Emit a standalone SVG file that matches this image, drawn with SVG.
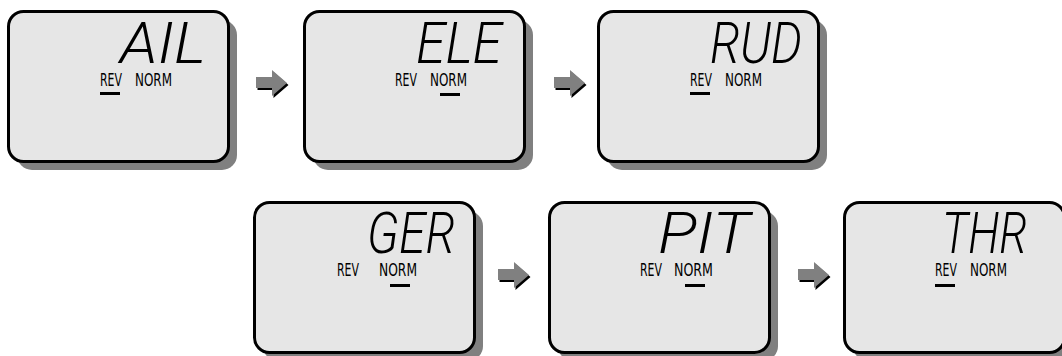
<svg xmlns="http://www.w3.org/2000/svg" width="1062" height="356" viewBox="0 0 1062 356">
<defs>
<style>
.shadow{fill:#808080}
.panel{fill:#e6e6e6;stroke:#000;stroke-width:3}
.big{font-family:Roboto,"DejaVu Sans",sans-serif;font-weight:300;font-style:italic;font-size:58px;fill:#000}
.lbl{font-family:"DejaVu Sans Condensed","DejaVu Sans",sans-serif;font-size:18.5px;fill:#000}
.bar{fill:#000}
.arr{fill:#808080}
.arrs{fill:#000}
</style>
<g id="panel">
<rect class="shadow" x="10" y="10" width="220" height="150" rx="15"/>
<rect class="panel" x="1.5" y="1.5" width="220" height="150" rx="15"/>
</g>
<g id="arrow">
<path class="arrs" d="M1.5,9 H17.5 V2 L32.5,15 L17.5,28 V20 H1.5 Z"/>
<path class="arr" d="M0,7 H16 V0 L31,13 L16,26 V18 H0 Z"/>
</g>
</defs>

<g id="node-ail" transform="translate(7,10)">
<use href="#panel"/>
<text class="big" x="113" y="53" textLength="86" lengthAdjust="spacingAndGlyphs">AIL</text>
<text class="lbl" x="93" y="76" textLength="22" lengthAdjust="spacingAndGlyphs">REV</text>
<text class="lbl" x="128" y="76" textLength="37" lengthAdjust="spacingAndGlyphs">NORM</text>
<rect class="bar" x="93" y="82" width="20" height="3"/>
</g>

<g id="node-ele" transform="translate(303,10)">
<use href="#panel"/>
<text class="big" x="113" y="53" textLength="86" lengthAdjust="spacingAndGlyphs">ELE</text>
<text class="lbl" x="92" y="76" textLength="22" lengthAdjust="spacingAndGlyphs">REV</text>
<text class="lbl" x="127" y="76" textLength="37" lengthAdjust="spacingAndGlyphs">NORM</text>
<rect class="bar" x="137" y="83" width="20" height="3"/>
</g>

<g id="node-rud" transform="translate(597,10)">
<use href="#panel"/>
<text class="big" x="113" y="53" textLength="92" lengthAdjust="spacingAndGlyphs">RUD</text>
<text class="lbl" x="93" y="76" textLength="22" lengthAdjust="spacingAndGlyphs">REV</text>
<text class="lbl" x="128" y="76" textLength="37" lengthAdjust="spacingAndGlyphs">NORM</text>
<rect class="bar" x="93" y="82" width="20" height="3"/>
</g>

<g id="node-ger" transform="translate(253,201)">
<use href="#panel"/>
<text class="big" x="114" y="52" textLength="88" lengthAdjust="spacingAndGlyphs">GER</text>
<text class="lbl" x="84" y="75" textLength="22" lengthAdjust="spacingAndGlyphs">REV</text>
<text class="lbl" x="126" y="75" textLength="38" lengthAdjust="spacingAndGlyphs">NORM</text>
<rect class="bar" x="137" y="83" width="20" height="3"/>
</g>

<g id="node-pit" transform="translate(548,201)">
<use href="#panel"/>
<text class="big" x="110" y="52" textLength="92" lengthAdjust="spacingAndGlyphs">PIT</text>
<text class="lbl" x="92" y="75" textLength="22" lengthAdjust="spacingAndGlyphs">REV</text>
<text class="lbl" x="126" y="75" textLength="39" lengthAdjust="spacingAndGlyphs">NORM</text>
<rect class="bar" x="137" y="83" width="20" height="3"/>
</g>

<g id="node-thr" transform="translate(843,201)">
<use href="#panel"/>
<text class="big" x="99" y="52" textLength="85" lengthAdjust="spacingAndGlyphs">THR</text>
<text class="lbl" x="92" y="75" textLength="22" lengthAdjust="spacingAndGlyphs">REV</text>
<text class="lbl" x="127" y="75" textLength="37" lengthAdjust="spacingAndGlyphs">NORM</text>
<rect class="bar" x="92" y="83" width="20" height="3"/>
</g>

<g id="connectors">
<use href="#arrow" x="256" y="70"/>
<use href="#arrow" x="554" y="70"/>
<use href="#arrow" x="498" y="262"/>
<use href="#arrow" x="798" y="262"/>
</g>
</svg>
